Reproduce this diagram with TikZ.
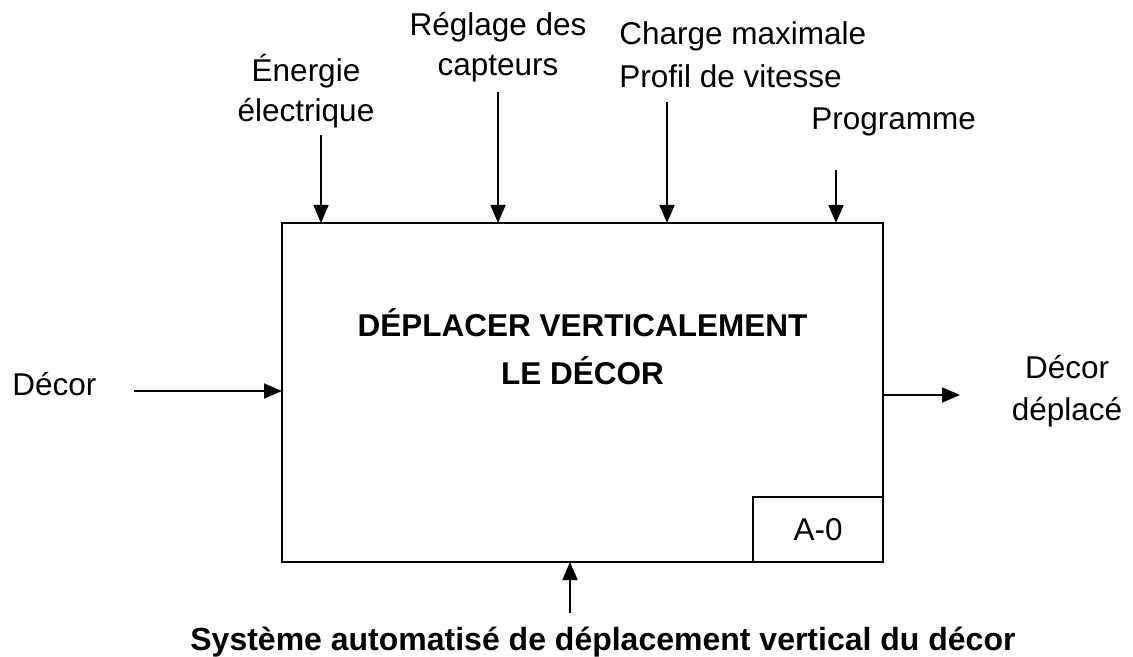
\documentclass[tikz,border=0pt]{standalone}
\usepackage{fontspec}
\setmainfont{Liberation Sans}
\usetikzlibrary{arrows.meta}

\tikzset{
	box/.style={draw, line width=1.2pt, inner sep=0pt, outer sep=0pt},
	lbl/.style={inner sep=0pt, font=\fontsize{15.75pt}{20pt}\selectfont},
	flow/.style={line width=0.8pt, -{Triangle[length=9pt, width=7.5pt]}},
}

\begin{document}
\begin{tikzpicture}[x=0.5pt, y=-0.5pt]
	% Frame:
	\useasboundingbox (0, 0) rectangle (1133, 657);
	% Activity box and its reference:
	\node[box, minimum width=300.5pt, minimum height=169.5pt] (act) at (582.5, 392.5){};
	\node[box, lbl, anchor=south east, minimum width=65pt, minimum height=32.5pt] (ref) at (act.south east){A-0};
	\node[lbl, font=\fontsize{15.75pt}{24pt}\selectfont\bfseries, align=center, anchor=base] (title) at (582.5, 384){DÉPLACER VERTICALEMENT\\LE DÉCOR};
	% Controls (base = last line):
	\node[lbl, align=center, anchor=base] (energie) at (306, 122){Énergie\\électrique};
	\node[lbl, align=center, anchor=base] (reglage) at (498, 76){Réglage des\\capteurs};
	\node[lbl, font=\fontsize{15.75pt}{21.5pt}\selectfont, align=left, anchor=base west] (charge) at (619, 88){Charge maximale\\Profil de vitesse};
	\node[lbl, anchor=base west] (prog) at (811, 130){Programme};
	\coordinate (c1) at (321, 135);
	\coordinate (c2) at (498, 92);
	\coordinate (c3) at (667, 102);
	\coordinate (c4) at (836, 170);
	\draw[flow] (c1) -- (c1 |- act.north);
	\draw[flow] (c2) -- (c2 |- act.north);
	\draw[flow] (c3) -- (c3 |- act.north);
	\draw[flow] (c4) -- (c4 |- act.north);
	% Input and output:
	\node[lbl, anchor=base west] (decor) at (12, 395){Décor};
	\node[lbl, font=\fontsize{15.75pt}{21pt}\selectfont, align=center, anchor=base] (deplace) at (1067, 420){Décor\\déplacé};
	\coordinate (in1) at (134, 391);
	\coordinate (out1) at (960, 395);
	\draw[flow] (in1) -- (in1 -| act.west);
	\draw[flow] (out1 -| act.east) -- (out1);
	% Mechanism:
	\node[lbl, font=\fontsize{16pt}{20pt}\selectfont\bfseries, anchor=base] (meca) at (603, 650){Système automatisé de déplacement vertical du décor};
	\coordinate (m1) at (570, 613);
	\draw[flow] (m1) -- (m1 |- act.south);
\end{tikzpicture}
\end{document}
